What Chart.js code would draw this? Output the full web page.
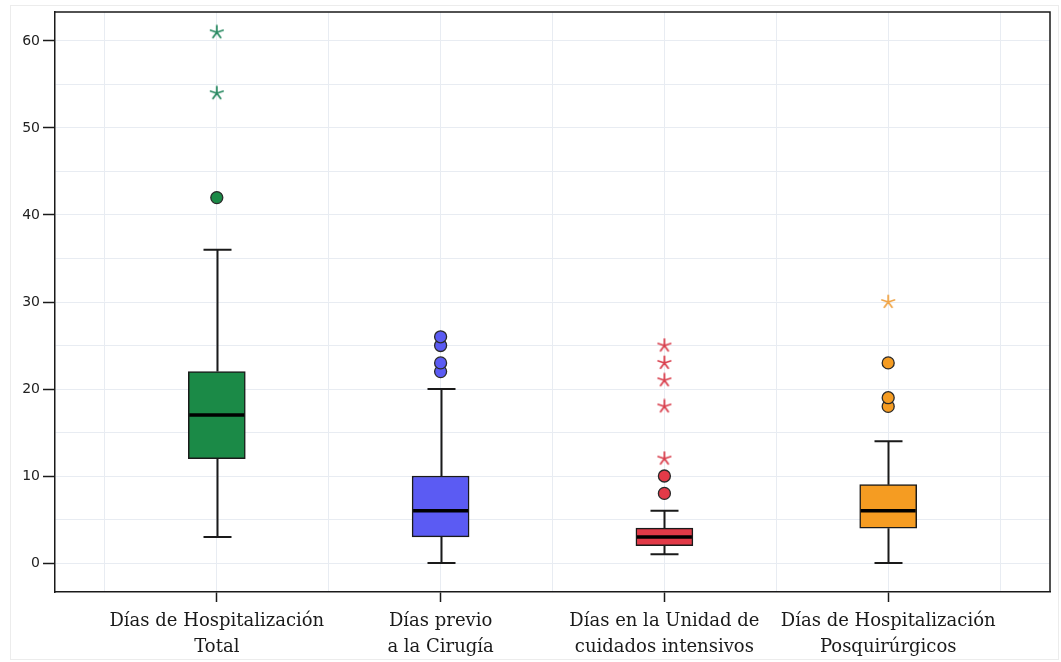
<!DOCTYPE html>
<html>
<head>
<meta charset="utf-8">
<script src="https://cdn.jsdelivr.net/npm/chart.js@4/dist/chart.umd.min.js"></script>
<style>
  html, body { margin: 0; padding: 0; background: #ffffff; }
  #wrap { position: relative; width: 1061px; height: 662px; }
</style>
</head>
<body>
<div id="wrap"><canvas id="c" width="1061" height="662"></canvas></div>
<script>
// Categories (two-line axis labels)
const categories = [
  ['Días de Hospitalización', 'Total'],
  ['Días previo', 'a la Cirugía'],
  ['Días en la Unidad de', 'cuidados intensivos'],
  ['Días de Hospitalización', 'Posquirúrgicos']
];
// Five-number summaries per category
const whiskerLow  = [3, 0, 1, 0];
const q1          = [12, 3, 2, 4];
const median      = [17, 6, 3, 6];
const q3          = [22, 10, 4, 9];
const whiskerHigh = [36, 20, 6, 14];
// Outliers (circles) and extreme values (stars)
const outlierCircles = [[42], [22, 23, 25, 26], [8, 10], [18, 19, 23]];
const extremeStars   = [[54, 61], [], [12, 18, 21, 23, 25], [30]];
// Axis ticks
const yTickValues = [0, 10, 20, 30, 40, 50, 60];
const yGridStep = 5;

const boxColors  = ['#1b8a47', '#5b5bf3', '#e23a48', '#f59c22'];
const starColors = ['#2a8a62', '#5b5bf3', '#d9404e', '#f0a548'];

// Five-armed asterisk marker for extreme values
function asterisk(color) {
  const s = 16, c = document.createElement('canvas');
  c.width = s; c.height = s;
  const g = c.getContext('2d');
  g.strokeStyle = color;
  g.lineWidth = 1.8;
  g.lineCap = 'round';
  g.beginPath();
  for (let k = 0; k < 5; k++) {
    const a = -Math.PI / 2 + k * 2 * Math.PI / 5;
    g.moveTo(s / 2, s / 2);
    g.lineTo(s / 2 + 6.5 * Math.cos(a), s / 2 + 6.5 * Math.sin(a));
  }
  g.stroke();
  return c;
}

const boxDataset = {
  type: 'bar',
  data: categories.map((c, i) => ({ x: i + 1, y: [q1[i], q3[i]] })),
  backgroundColor: boxColors,
  borderColor: '#1a1a1a',
  borderWidth: 1.5,
  borderSkipped: false,
  barThickness: 57,
  grouped: false,
  order: 2
};

const circleDatasets = categories.map((c, i) => ({
  type: 'scatter',
  data: outlierCircles[i].map(v => ({ x: i + 1, y: v })),
  pointStyle: 'circle',
  pointRadius: 6,
  backgroundColor: boxColors[i],
  borderColor: '#2a2a2a',
  borderWidth: 1.3,
  order: 1
}));

const starDatasets = categories.map((c, i) => ({
  type: 'scatter',
  data: extremeStars[i].map(v => ({ x: i + 1, y: v })),
  pointStyle: asterisk(starColors[i]),
  pointRadius: 7,
  order: 1
}));

const isCatTick = ctx => !!ctx.tick && Number.isInteger(ctx.tick.value);
const isYLabelTick = ctx => !!ctx.tick && yTickValues.includes(ctx.tick.value);

// Whiskers, caps and median lines, placed through the chart scales
const boxDecor = {
  id: 'boxDecor',
  beforeDatasetsDraw(chart) {
    const { ctx, scales: { x, y } } = chart;
    ctx.save();
    ctx.strokeStyle = '#1a1a1a';
    ctx.lineWidth = 2;
    const capHalf = 14;
    categories.forEach((c, i) => {
      const cx = Math.round(x.getPixelForValue(i + 1)) + 0.5;
      const yLo = y.getPixelForValue(whiskerLow[i]);
      const yHi = y.getPixelForValue(whiskerHigh[i]);
      const yQ1 = y.getPixelForValue(q1[i]);
      const yQ3 = y.getPixelForValue(q3[i]);
      ctx.beginPath();
      ctx.moveTo(cx, yQ3); ctx.lineTo(cx, yHi);
      ctx.moveTo(cx, yQ1); ctx.lineTo(cx, yLo);
      ctx.moveTo(cx - capHalf, yHi); ctx.lineTo(cx + capHalf, yHi);
      ctx.moveTo(cx - capHalf, yLo); ctx.lineTo(cx + capHalf, yLo);
      ctx.stroke();
    });
    ctx.restore();
  },
  afterDatasetsDraw(chart) {
    const { ctx, scales: { x, y } } = chart;
    ctx.save();
    ctx.strokeStyle = '#000000';
    ctx.lineWidth = 3.5;
    categories.forEach((c, i) => {
      const cx = x.getPixelForValue(i + 1);
      const ym = y.getPixelForValue(median[i]);
      ctx.beginPath();
      ctx.moveTo(cx - 27.5, ym); ctx.lineTo(cx + 27.5, ym);
      ctx.stroke();
    });
    ctx.restore();
  },
  afterDraw(chart) {
    const { ctx, chartArea: a } = chart;
    ctx.save();
    ctx.strokeStyle = '#1a1a1a';
    ctx.lineWidth = 1.5;
    ctx.beginPath();
    ctx.moveTo(a.left, a.top); ctx.lineTo(a.right, a.top); ctx.lineTo(a.right, a.bottom);
    ctx.stroke();
    ctx.strokeStyle = '#ececec';
    ctx.lineWidth = 1;
    ctx.strokeRect(10.5, 5.5, 1048, 654);
    ctx.restore();
  }
};

new Chart(document.getElementById('c'), {
  type: 'bar',
  data: { datasets: [boxDataset, ...circleDatasets, ...starDatasets] },
  plugins: [boxDecor],
  options: {
    responsive: false,
    animation: false,
    layout: { padding: { top: 12, right: 11, left: 0, bottom: 0 } },
    plugins: { legend: { display: false }, tooltip: { enabled: false } },
    scales: {
      x: {
        type: 'linear',
        offset: false,
        min: 0.277,
        max: 4.723,
        afterBuildTicks(scale) {
          const t = [];
          for (let v = 0.5; v <= 4.5; v += 0.5) t.push({ value: v });
          scale.ticks = t;
        },
        afterFit(scale) { scale.height = 70; },
        grid: {
          offset: false,
          color: '#e8ecf2',
          lineWidth: 1,
          tickLength: 10,
          tickWidth: 1.5,
          tickColor: ctx => isCatTick(ctx) ? '#1a1a1a' : 'rgba(0,0,0,0)'
        },
        border: { display: true, color: '#1a1a1a', width: 1.5 },
        ticks: {
          autoSkip: false,
          maxRotation: 0,
          padding: 7,
          color: '#1a1a1a',
          font: { family: 'DejaVu Serif', size: 18, lineHeight: 1.42 },
          callback: v => Number.isInteger(v) ? categories[v - 1] : ''
        }
      },
      y: {
        type: 'linear',
        min: -3.333,
        max: 63.333,
        afterBuildTicks(scale) {
          const t = [];
          for (let v = 0; v <= 60; v += yGridStep) t.push({ value: v });
          scale.ticks = t;
        },
        afterFit(scale) { scale.width = 55; },
        grid: {
          color: '#e8ecf2',
          lineWidth: 1,
          tickLength: 12,
          tickWidth: 1.5,
          tickColor: ctx => isYLabelTick(ctx) ? '#1a1a1a' : 'rgba(0,0,0,0)'
        },
        border: { display: true, color: '#1a1a1a', width: 1.5 },
        ticks: {
          padding: 3,
          color: '#222222',
          font: { family: 'DejaVu Sans', size: 14 },
          callback: v => yTickValues.includes(v) ? String(v) : ''
        }
      }
    }
  }
});
</script>
</body>
</html>
